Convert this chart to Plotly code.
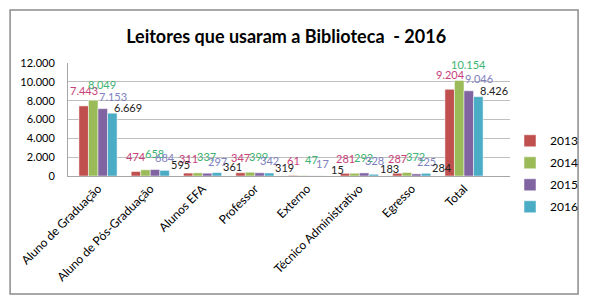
import plotly.graph_objects as go

categories = ["Aluno de Graduação", "Aluno de Pós-Graduação", "Alunos EFA", "Professor",
              "Externo", "Técnico Administrativo", "Egresso", "Total"]
years = ["2013", "2014", "2015", "2016"]
v2013 = [7443, 474, 311, 347, 61, 281, 287, 9204]
v2014 = [8049, 658, 337, 399, 47, 292, 372, 10154]
v2015 = [7153, 684, 297, 342, 17, 328, 225, 9046]
v2016 = [6669, 595, 361, 319, 15, 183, 284, 8426]

bar_colors = ["#C0504D", "#9BBB59", "#8064A2", "#4BACC6"]
label_colors = ["#C8407A", "#3CB371", "#8080C0", "#222222"]
# label offsets (px) like Excel's crowded data labels
label_dx = [-14, 4, 15, 30]
label_dy = [15, 16, 12, 6]


def fmt(v):
    return f"{v:,}".replace(",", ".")


fig = go.Figure()
for i, (name, vals) in enumerate(zip(years, [v2013, v2014, v2015, v2016])):
    fig.add_trace(go.Bar(
        name=name, x=categories, y=vals, legendgroup=name,
        marker=dict(color=bar_colors[i], line=dict(color="white", width=0.5)),
    ))
    for cat, v in zip(categories, vals):
        fig.add_annotation(x=cat, y=v, xref="x", yref="y", text=fmt(v), showarrow=False,
                           xshift=label_dx[i], yshift=label_dy[i],
                           font=dict(color=label_colors[i], size=11, family="Lato"))

fig.update_layout(
    width=590, height=303,
    margin=dict(l=68, r=80, t=63, b=127, autoexpand=False),
    paper_bgcolor="white", plot_bgcolor="white",
    font=dict(family="Lato", size=11, color="black"),
    title=dict(text="<b>Leitores que usaram a Biblioteca  - 2016</b>", x=0.485, xanchor="center",
               y=0.878, yanchor="middle", font=dict(size=18, family="Lato", color="black")),
    barmode="group", bargap=0.27, bargroupgap=0,
    legend=dict(x=1.0, y=0.44, xanchor="left", yanchor="top", font=dict(size=12),
                bgcolor="rgba(0,0,0,0)", traceorder="grouped", tracegroupgap=3),
    showlegend=True,
)
fig.update_yaxes(range=[0, 12000], dtick=2000, tickformat=",d", showgrid=True, gridcolor="#BFBFBF",
                 showline=True, linecolor="#A6A6A6", ticks="", ticklabelstandoff=10,
                 tickfont=dict(size=11), zeroline=False, automargin=False)
fig.update_xaxes(tickangle=-45, showline=True, linecolor="#A6A6A6", tickfont=dict(size=12),
                 automargin=False)
fig.update_layout(separators=",.")

# chart frame
fig.add_shape(type="rect", xref="paper", yref="paper", x0=-0.131, x1=1.154, y0=-1.044, y1=1.469,
              line=dict(color="#8C8C8C", width=1.5), fillcolor="rgba(0,0,0,0)", layer="below")

fig.write_html("out.html", post_script="document.body.style.margin='0';",
               config=dict(displayModeBar=False))
